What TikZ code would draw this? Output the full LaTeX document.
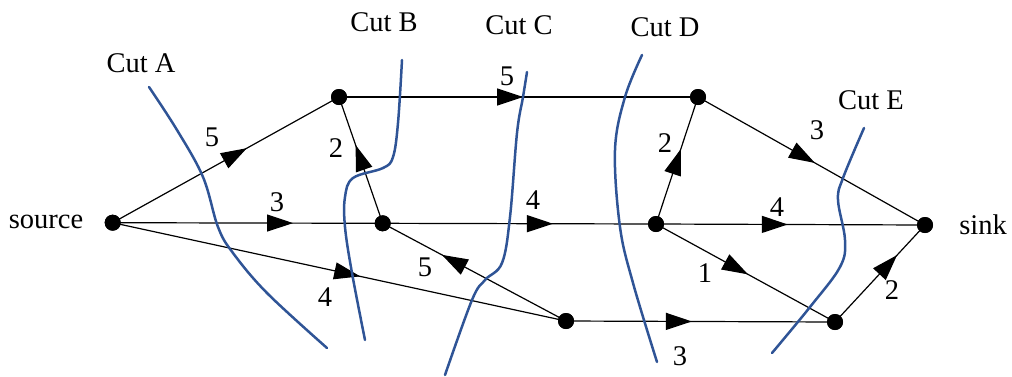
\documentclass[tikz,border=0pt]{standalone}
\usepackage{fontspec}
\setmainfont{Liberation Serif}
\usetikzlibrary{arrows.meta,decorations.markings}
\definecolor{cutblue}{RGB}{47,84,150}
\begin{document}
\begin{tikzpicture}[x=1pt,y=-1pt,
  dot/.style={circle,fill=black,inner sep=0pt,minimum size=16pt},
  lbl/.style={font=\fontsize{28.5}{30}\selectfont, inner sep=0pt},
  flow/.style={line width=1.2pt, postaction={decorate}, decoration={markings, mark=at position #1 with {\arrow{Triangle[length=26pt,width=17pt]}}}},
  cut/.style={cutblue, line width=2.5pt, line cap=round}]
\useasboundingbox (0,0) rectangle (1012,376);
% nodes
\node[dot] (s) at (112.7,222.7) {};
\node[dot] (a) at (339,97) {};
\node[dot] (b) at (382.7,223.3) {};
\node[dot] (c) at (698,97) {};
\node[dot] (d) at (656,224) {};
\node[dot] (e) at (566,321) {};
\node[dot] (f) at (835,322) {};
\node[dot] (t) at (925,225) {};
% edges
\draw[flow=0.593] (s.center) -- (a.center);
\draw[flow=0.668] (s.center) -- (b.center);
\draw[flow=0.546] (s.center) -- (e.center);
\draw[flow=0.62] (b.center) -- (a.center);
\draw[flow=0.513] (a.center) -- (c.center);
\draw[flow=0.623] (b.center) -- (d.center);
\draw[flow=0.677] (e.center) -- (b.center);
\draw[flow=0.468] (e.center) -- (f.center);
\draw[flow=0.59] (d.center) -- (c.center);
\draw[flow=0.515] (c.center) -- (t.center);
\draw[flow=0.49] (d.center) -- (t.center);
\draw[flow=0.514] (d.center) -- (f.center);
\draw[flow=0.69] (f.center) -- (t.center);
% redraw dots on top
\foreach \n in {s,a,b,c,d,e,f,t} \fill (\n) circle (8pt);
% cuts
\draw[cut] plot[smooth, tension=0.6] coordinates {(149,87) (177,130) (203,177) (218,227) (233,253) (267,293) (327,348)};
\draw[cut] plot[smooth, tension=0.6] coordinates {(402,60) (398,123) (393,157) (383,168) (353,178) (345,197) (345,227) (352,273) (365,340)};
\draw[cut] plot[smooth, tension=0.6] coordinates {(527,72) (523,97) (517,133) (510,217) (502,263) (485,280) (472,300) (445,375)};
\draw[cut] plot[smooth, tension=0.6] coordinates {(642,55) (625,97) (615,150) (620,227) (633,283) (657,362)};
\draw[cut] plot[smooth, tension=0.6] coordinates {(864,128) (843,178) (838,200) (845,240) (840,267) (810,307) (772,353)};
% labels
\node[lbl] (ls) at (46,222) {source};
\node[lbl] (lt) at (983,225) {sink};
\node[lbl] (ca) at (141,63) {Cut A};
\node[lbl] (cb) at (384,22) {Cut B};
\node[lbl] (cc) at (519,25) {Cut C};
\node[lbl] (cd) at (665,27) {Cut D};
\node[lbl] (ce) at (871,100) {Cut E};
\node[lbl] (l1) at (212,137) {5};
\node[lbl] (l2) at (277,202) {3};
\node[lbl] (l3) at (325,297) {4};
\node[lbl] (l4) at (336,148) {2};
\node[lbl] (l5) at (507,76) {5};
\node[lbl] (l6) at (533,200) {4};
\node[lbl] (l7) at (425,267) {5};
\node[lbl] (l8) at (680,356) {3};
\node[lbl] (l9) at (665,143) {2};
\node[lbl] (l10) at (817,130) {3};
\node[lbl] (l11) at (777,207) {4};
\node[lbl] (l12) at (705,273) {1};
\node[lbl] (l13) at (892,290) {2};
\end{tikzpicture}
\end{document}
